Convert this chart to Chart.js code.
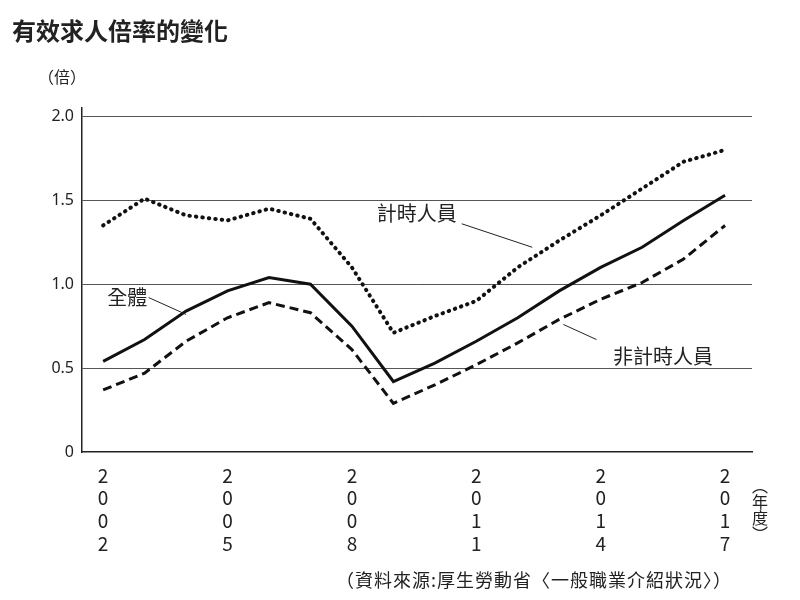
<!DOCTYPE html><html><head><meta charset="utf-8">
<script src="https://cdn.jsdelivr.net/npm/chart.js@4"></script>
<style>body{margin:0;background:#fff}#w{position:relative;width:800px;height:600px}
.t{position:absolute;font-family:"Noto Sans CJK TC";color:#222}</style></head><body><div id="w">
<canvas id="c" width="800" height="600"></canvas>
<div class="t" style="left:12px;top:12px;font-size:24px;font-weight:bold">有效求人倍率的變化</div>
<div class="t" style="left:38px;top:64px;font-size:16px">（倍）</div>
<div class="t" style="left:752px;top:478px;font-size:16px;writing-mode:vertical-rl;line-height:16px">（年度）</div>
<div class="t" style="left:336px;top:566px;font-size:18px;letter-spacing:1px">（資料來源:厚生勞動省〈一般職業介紹狀況〉）</div>
</div>
<script>
const years=[2002,2003,2004,2005,2006,2007,2008,2009,2010,2011,2012,2013,2014,2015,2016,2017];
const total=[0.54,0.67,0.84,0.96,1.04,1.00,0.75,0.42,0.53,0.66,0.80,0.96,1.10,1.22,1.38,1.53];
const partTime=[1.35,1.51,1.41,1.38,1.45,1.39,1.10,0.71,0.81,0.90,1.10,1.26,1.41,1.57,1.73,1.80];
const fullTime=[0.37,0.47,0.66,0.80,0.89,0.83,0.61,0.29,0.40,0.52,0.65,0.79,0.91,1.01,1.15,1.35];
const shownYears=[2002,2005,2008,2011,2014,2017];
const mk=(d,dash,w,cap)=>({data:years.map((y,i)=>({x:y,y:d[i]})),borderColor:'#111',borderWidth:w,borderDash:dash,borderCapStyle:cap,pointRadius:0,tension:0,fill:false});
const notes={id:'notes',afterDraw(ch){const c=ch.ctx,x=ch.scales.x,y=ch.scales.y;
 c.save();c.fillStyle='#222';c.strokeStyle='#222';c.lineWidth=1;c.font='20px "Noto Sans CJK TC"';c.textBaseline='middle';
 const L=[['計時人員',2008.6,1.42,2010.65,1.36,2012.35,1.22],['全體',2002.1,0.92,2003.1,0.92,2004.0,0.82],['非計時人員',2014.3,0.57,2013.9,0.67,2013.1,0.76]];
 for(const [t,tx,ty,a,b,e,f] of L){c.fillText(t,x.getPixelForValue(tx),y.getPixelForValue(ty));
  c.beginPath();c.moveTo(x.getPixelForValue(a),y.getPixelForValue(b));c.lineTo(x.getPixelForValue(e),y.getPixelForValue(f));c.stroke();}
 c.restore();}};
new Chart(document.getElementById('c'),{type:'line',data:{datasets:[mk(partTime,[0.5,6],4,'round'),mk(fullTime,[9,5],3,'butt'),mk(total,[],3,'butt')]},
options:{responsive:false,animation:false,layout:{padding:{top:108,right:48,left:0,bottom:0}},
plugins:{legend:{display:false},tooltip:{enabled:false}},
scales:{x:{type:'linear',min:2001.49,max:2017.65,afterFit(s){s.height=148},afterBuildTicks(s){s.ticks=years.map(v=>({value:v}))},
 grid:{display:false},border:{color:'#222',width:1.5},
 ticks:{autoSkip:false,maxRotation:0,color:'#222',font:{size:19,family:'Noto Sans CJK TC'},padding:4,
 callback:v=>shownYears.includes(v)?String(v).split(''):''}},
y:{min:0,max:2.05,afterFit(s){s.width=82},afterBuildTicks(s){s.ticks=[0,0.5,1,1.5,2].map(v=>({value:v}))},
 grid:{color:ctx=>ctx.tick&&ctx.tick.value===0?'rgba(0,0,0,0)':'#555',lineWidth:1,drawTicks:false},border:{color:'#222',width:1.5},
 ticks:{color:'#222',font:{size:16,family:'Noto Sans'},padding:8,callback:v=>v===0?'0':v.toFixed(1)}}}},plugins:[notes]});
</script></body></html>
